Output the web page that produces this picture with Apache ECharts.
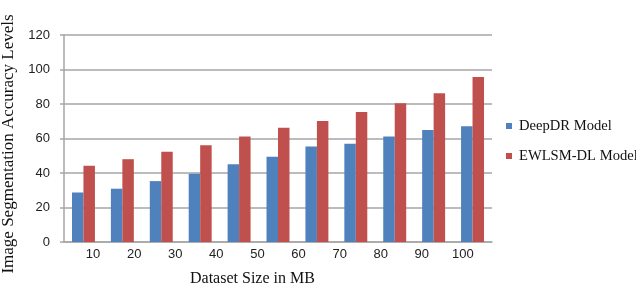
<!DOCTYPE html>
<html>
<head>
<meta charset="utf-8">
<script src="https://cdn.jsdelivr.net/npm/echarts@6/dist/echarts.min.js"></script>
<style>html,body{margin:0;padding:0;background:#fff;}#c{width:636px;height:288px;}</style>
</head>
<body>
<div id="c"></div>
<script>
// bar groups as drawn in the picture (11 groups)
const groups = ['g1','g2','g3','g4','g5','g6','g7','g8','g9','g10','g11'];
// x tick labels as printed under the axis (10 labels)
const tickLabels = ['10','20','30','40','50','60','70','80','90','100'];
const deepDR = [28.7, 30.9, 35.3, 39.5, 45.1, 49.4, 55.4, 56.9, 61.1, 65.0, 67.1];
const ewlsm  = [44.2, 48.0, 52.3, 56.1, 61.1, 66.3, 70.2, 75.4, 80.4, 86.2, 95.7];
const seriesNames = ['DeepDR Model', 'EWLSM-DL Model'];
const yTicks = {min: 0, max: 120, interval: 20};

const chart = echarts.init(document.getElementById('c'), null, {renderer: 'canvas'});
const serif = '"Liberation Serif", "Times New Roman", serif';
const sans = '"Liberation Sans", Arial, sans-serif';
chart.setOption({
  animation: false,
  backgroundColor: '#ffffff',
  title: {
    text: 'Dataset Size in MB',
    left: 185, top: 266,
    textStyle: {fontFamily: serif, fontSize: 16, fontWeight: 'normal', color: '#111'}
  },
  legend: {
    orient: 'vertical',
    left: 501, top: 113,
    itemWidth: 6, itemHeight: 6, itemGap: 14,
    icon: 'rect',
    data: seriesNames,
    textStyle: {fontFamily: serif, fontSize: 14.6, color: '#111', lineHeight: 16, padding: [0, 0, 0, 2]}
  },
  grid: [
    {left: 64, right: 144, top: 35, bottom: 46, containLabel: false, outerBoundsMode: 'none'},
    {left: 72.5, right: 152.5, top: 35, bottom: 46, containLabel: false, outerBoundsMode: 'none'}
  ],
  xAxis: [
    {
      type: 'category', gridIndex: 0, data: groups,
      axisLine: {show: true, lineStyle: {color: '#a6a6a6', width: 1.5}},
      axisTick: {show: false},
      axisLabel: {show: false}
    },
    {
      type: 'category', gridIndex: 1, data: tickLabels,
      axisLine: {show: false}, axisTick: {show: false},
      axisLabel: {show: true, margin: 6, fontFamily: sans, fontSize: 13, color: '#222'}
    }
  ],
  yAxis: [
    {
      type: 'value', gridIndex: 0,
      min: yTicks.min, max: yTicks.max, interval: yTicks.interval,
      name: 'Image Segmentation Accuracy Levels',
      nameLocation: 'middle', nameGap: 42,
      nameTextStyle: {fontFamily: serif, fontSize: 17, color: '#111', padding: [0, 11, 0, 0]},
      axisLine: {show: true, lineStyle: {color: '#a6a6a6', width: 1.5}},
      axisTick: {show: true, length: 4, lineStyle: {color: '#a6a6a6', width: 1.5}},
      axisLabel: {margin: 14, fontFamily: sans, fontSize: 13, color: '#222'},
      splitLine: {show: true, lineStyle: {color: '#a6a6a6', width: 1.5}}
    },
    {
      type: 'value', gridIndex: 1, min: 0, max: 120, show: false
    }
  ],
  series: [
    {name: seriesNames[0], type: 'bar', xAxisIndex: 0, yAxisIndex: 0, data: deepDR,
     itemStyle: {color: '#4F81BD'}, barGap: '0%', barCategoryGap: '41%'},
    {name: seriesNames[1], type: 'bar', xAxisIndex: 0, yAxisIndex: 0, data: ewlsm,
     itemStyle: {color: '#C0504D'}, barGap: '0%', barCategoryGap: '41%'}
  ]
});
</script>
</body>
</html>
